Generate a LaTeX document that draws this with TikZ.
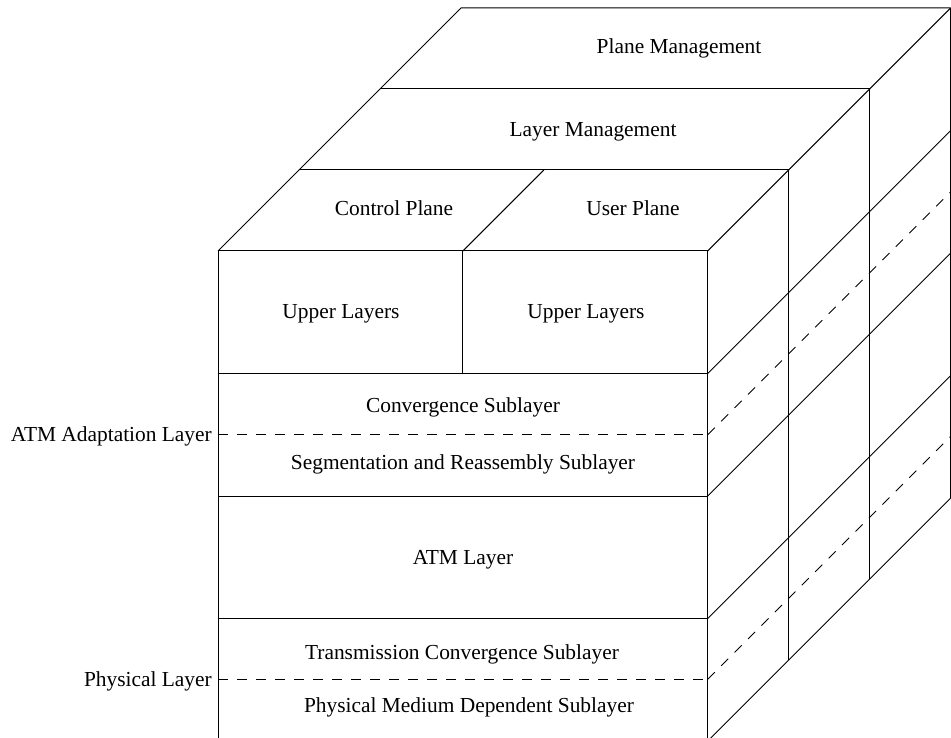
\documentclass[tikz,border=0pt]{standalone}
\usepackage{fontspec}
\setmainfont{Liberation Serif}
\begin{document}
\begin{tikzpicture}[x=1pt,y=-1pt,
  edge/.style={line width=1pt, draw=black},
  sublayer/.style={edge, dash pattern=on 10pt off 9pt},
  lbl/.style={font=\fontsize{21.4}{26}\selectfont, inner sep=0pt, anchor=base},
  side/.style={lbl, anchor=base east}]
\useasboundingbox (0,0) rectangle (951,738);
\clip (0,0) rectangle (951,738);

% depth of one plane along the oblique axis
\def\d{81}
% front face corners and row boundaries
\coordinate (fl) at (218,251);
\coordinate (fm) at (462.85,251);
\coordinate (fr) at (707.7,251);
\coordinate (r1) at (707.7,373.5);
\coordinate (r2) at (707.7,496);
\coordinate (r3) at (707.7,618.5);
\coordinate (r4) at (707.7,741);
\coordinate (d1) at (707.7,434.75);
\coordinate (d2) at (707.7,679.25);

% top faces: user/control planes, layer management, plane management
\draw[edge] (fl) -- ++(\d,-\d) coordinate (t1l) -- ++(\d,-\d) coordinate (t2l)
  -- ++(\d,-\d) coordinate (t3l) -- (950.7,8) coordinate (t3r);
\draw[edge] (fr) -- ++(\d,-\d) coordinate (t1r) -- ++(\d,-\d) coordinate (t2r) -- (t3r);
\draw[edge] (t1l) -- (t1r);
\draw[edge] (t2l) -- (t2r);
\draw[edge] (fm) -- ++(\d,-\d);

% front face
\draw[edge] (fl) rectangle (r4);
\draw[edge] (fm) -- (462.85,373.5);
\foreach \r in {r1,r2,r3}
  \draw[edge] (218,0 |- \r) -- (\r);
\foreach \r in {d1,d2}
  \draw[sublayer] (218,0 |- \r) -- (\r);

% side face: row boundaries running back through the three planes
\foreach \r in {r1,r2,r3,r4}
  \draw[edge] (\r) -- ++(3*\d,-3*\d);
\foreach \r in {d1,d2}
  \draw[sublayer] (\r) -- ++(3*\d,-3*\d);
% rear edges of the three planes
\draw[edge] (t1r) -- ++(0,490);
\draw[edge] (t2r) -- ++(0,490);
\draw[edge] (t3r) -- ++(0,490);

% labels
\node[lbl] (pm) at (679,54) {Plane Management};
\node[lbl] (lm) at (593,137) {Layer Management};
\node[lbl] (cp) at (394,215.5) {Control Plane};
\node[lbl] (up) at (633,215.5) {User Plane};
\node[lbl] (ul1) at (341,319) {Upper Layers};
\node[lbl] (ul2) at (586,319) {Upper Layers};
\node[lbl] (cs) at (463,412.5) {Convergence Sublayer};
\node[lbl] (sar) at (463,469) {Segmentation and Reassembly Sublayer};
\node[lbl] (atm) at (463,564) {ATM Layer};
\node[lbl] (tc) at (462,659) {Transmission Convergence Sublayer};
\node[lbl] (pmd) at (469,712.5) {Physical Medium Dependent Sublayer};
\node[side] (aal) at (212,441) {ATM Adaptation Layer};
\node[side] (phy) at (212,686) {Physical Layer};
\end{tikzpicture}
\end{document}
